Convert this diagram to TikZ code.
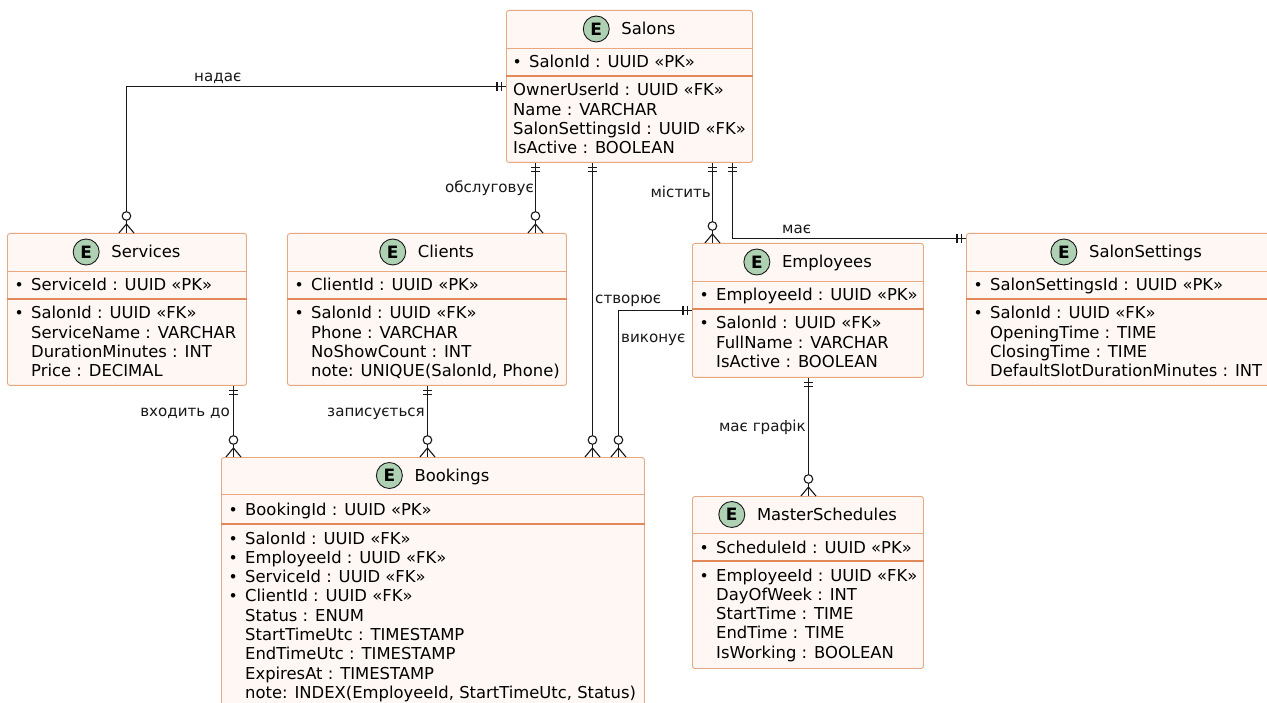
\documentclass[tikz,border=0pt]{standalone}
\usepackage{fontspec}
\setmainfont{DejaVu Sans}
\definecolor{efill}{RGB}{254,247,243}
\definecolor{eborder}{RGB}{231,167,128}
\definecolor{epk}{RGB}{226,135,88}
\definecolor{ecirc}{RGB}{173,209,178}
\definecolor{eline}{RGB}{24,24,24}
\tikzset{
  ebox/.style={draw=eborder, fill=efill, line width=0.9pt, rounded corners=2.5pt, inner sep=0pt},
  tsep/.style={draw=eborder, line width=0.9pt},
  pksepline/.style={draw=epk, line width=1.4pt},
  ttext/.style={font=\fontsize{16.4}{19.3}\selectfont, inner sep=0pt, text=black},
  atext/.style={font=\fontsize{16.4}{19.3}\selectfont, inner sep=0pt, text=black},
  ecircle/.style={circle, draw=eline, fill=ecirc, line width=0.9pt, minimum size=26pt, inner sep=0pt, font=\fontsize{17}{17}\selectfont\bfseries},
  rel/.style={draw=eline, line width=1.1pt},
  rlabel/.style={font=\fontsize{15.1}{17}\selectfont, inner sep=0pt, text=eline},
  onemark/.pic={\draw[rel] (4.7,-4.5) -- (4.7,4.5) (9,-4.5) -- (9,4.5);},
  manymark/.pic={\draw[rel] (0,-7.5) -- (9,0) -- (0,7.5); \draw[rel, fill=white] (17,0) circle[radius=4.3];},
}
\newcommand\B{\llap{{\fontsize{15.5}{15.5}\selectfont\textbullet}\hspace{7.4pt}}}
\newcommand\entity[8]{%
  \node[ebox, minimum width=#4pt, minimum height=#5pt, anchor=north west] (#1) at (#2,#3) {};
  \draw[tsep] ([yshift=-#6pt]#1.north west) -- ([yshift=-#6pt]#1.north east);
  \draw[pksepline] ([yshift=-#7pt]#1.north west) -- ([yshift=-#7pt]#1.north east);
  \node[ttext, anchor=base] (#1-title) at ([xshift=19pt, yshift={-#6pt/2-6pt}]#1.north) {#8};
  \node[ecircle] (#1-e) at ([xshift=-25pt, yshift=6pt]#1-title.base west) {E};
}
\newcommand\erows[4]{%
  \foreach \t [count=\i from 0] in {#4} {\node[atext, anchor=base west] (#1\i) at (#2, {#3+6+19.3*\i}) {\t};}%
}
\begin{document}
\begin{tikzpicture}[x=1pt,y=-1pt]
\useasboundingbox (0,0) rectangle (1267,703);
\clip (0,0) rectangle (1267,703);
\fill[white] (0,0) rectangle (1267,703);

% Salons
\entity{salons}{506}{10}{246}{152}{38}{66}{Salons}
\erows{salons-pk}{529}{62}{\B SalonId : UUID «PK»}
\erows{salons-a}{513}{90}{OwnerUserId : UUID «FK»,Name : VARCHAR,SalonSettingsId : UUID «FK»,IsActive : BOOLEAN}

% Services
\entity{services}{7}{233}{239}{152}{38}{66}{Services}
\erows{services-pk}{31}{285}{\B ServiceId : UUID «PK»}
\erows{services-a}{31}{313}{\B SalonId : UUID «FK»,ServiceName : VARCHAR,DurationMinutes : INT,Price : DECIMAL}

% Clients
\entity{clients}{287}{233}{279}{152}{38}{66}{Clients}
\erows{clients-pk}{311}{285}{\B ClientId : UUID «PK»}
\erows{clients-a}{311}{313}{\B SalonId : UUID «FK»,Phone : VARCHAR,NoShowCount : INT,{note: UNIQUE(SalonId, Phone)}}

% Employees
\entity{employees}{692}{243}{231}{134}{38}{66}{Employees}
\erows{employees-pk}{716}{295}{\B EmployeeId : UUID «PK»}
\erows{employees-a}{716}{323}{\B SalonId : UUID «FK»,FullName : VARCHAR,IsActive : BOOLEAN}

% SalonSettings
\entity{settings}{966}{233}{320}{152}{38}{66}{SalonSettings}
\erows{settings-pk}{990}{285}{\B SalonSettingsId : UUID «PK»}
\erows{settings-a}{990}{313}{\B SalonId : UUID «FK»,OpeningTime : TIME,ClosingTime : TIME,DefaultSlotDurationMinutes : INT}

% Bookings
\entity{bookings}{221}{457}{423}{270}{37}{67}{Bookings}
\erows{bookings-pk}{245}{509}{\B BookingId : UUID «PK»}
\erows{bookings-a}{245}{538}{\B SalonId : UUID «FK»,\B EmployeeId : UUID «FK»,\B ServiceId : UUID «FK»,\B ClientId : UUID «FK»,Status : ENUM,StartTimeUtc : TIMESTAMP,EndTimeUtc : TIMESTAMP,ExpiresAt : TIMESTAMP,{note: INDEX(EmployeeId, StartTimeUtc, Status)}}

% MasterSchedules
\entity{masters}{692}{496}{231}{172}{37}{65}{MasterSchedules}
\erows{masters-pk}{716}{547}{\B ScheduleId : UUID «PK»}
\erows{masters-a}{716}{575}{\B EmployeeId : UUID «FK»,DayOfWeek : INT,StartTime : TIME,EndTime : TIME,IsWorking : BOOLEAN}

% Connectors
% 1 Salons - Services
\coordinate (c1b) at ([xshift=-0.5pt]services.north);
\draw[rel] (salons.west) -| (c1b);
\pic[rotate=180] at (salons.west) {onemark};
\pic[rotate=90] at (c1b) {manymark};
\node[rlabel, anchor=base west] (l1) at (194,82) {надає};

% 2 Salons - Clients
\coordinate (c2a) at ([xshift=-94pt]salons.south);
\coordinate (c2b) at (c2a |- clients.north);
\draw[rel] (c2a) -- (c2b);
\pic[rotate=-90] at (c2a) {onemark};
\pic[rotate=90] at (c2b) {manymark};
\node[rlabel, anchor=base east] (l2) at (534,193) {обслуговує};

% 3 Salons - Bookings
\coordinate (c3a) at ([xshift=-37pt]salons.south);
\coordinate (c3b) at (c3a |- bookings.north);
\draw[rel] (c3a) -- (c3b);
\pic[rotate=-90] at (c3a) {onemark};
\pic[rotate=90] at (c3b) {manymark};
\node[rlabel, anchor=base west] (l3) at (595,304) {створює};

% 4 Salons - Employees
\coordinate (c4a) at ([xshift=83pt]salons.south);
\coordinate (c4b) at (c4a |- employees.north);
\draw[rel] (c4a) -- (c4b);
\pic[rotate=-90] at (c4a) {onemark};
\pic[rotate=90] at (c4b) {manymark};
\node[rlabel, anchor=base east] (l4) at (711,198) {містить};

% 5 Salons - SalonSettings
\coordinate (c5a) at ([xshift=103pt]salons.south);
\coordinate (c5b) at ([yshift=-5.45pt]settings.north west);
\draw[rel] (c5a) |- (c5b);
\pic[rotate=-90] at (c5a) {onemark};
\pic[rotate=180] at (c5b) {onemark};
\node[rlabel, anchor=base west] (l5) at (782,233.5) {має};

% 6 Employees - Bookings
\coordinate (c6a) at (employees.west);
\coordinate (c6b) at ([xshift=185.5pt]bookings.north);
\draw[rel] (c6a) -| (c6b);
\pic[rotate=180] at (c6a) {onemark};
\pic[rotate=90] at (c6b) {manymark};
\node[rlabel, anchor=base west] (l6) at (621,342.5) {виконує};

% 7 Services - Bookings
\coordinate (c7a) at ([xshift=106.5pt]services.south);
\coordinate (c7b) at (c7a |- bookings.north);
\draw[rel] (c7a) -- (c7b);
\pic[rotate=-90] at (c7a) {onemark};
\pic[rotate=90] at (c7b) {manymark};
\node[rlabel, anchor=base east] (l7) at (230,416.5) {входить до};

% 8 Clients - Bookings
\coordinate (c8a) at ([xshift=0.5pt]clients.south);
\coordinate (c8b) at (c8a |- bookings.north);
\draw[rel] (c8a) -- (c8b);
\pic[rotate=-90] at (c8a) {onemark};
\pic[rotate=90] at (c8b) {manymark};
\node[rlabel, anchor=base east] (l8) at (425,416.5) {записується};

% 9 Employees - MasterSchedules
\coordinate (c9a) at ([xshift=0.5pt]employees.south);
\coordinate (c9b) at (c9a |- masters.north);
\draw[rel] (c9a) -- (c9b);
\pic[rotate=-90] at (c9a) {onemark};
\pic[rotate=90] at (c9b) {manymark};
\node[rlabel, anchor=base east] (l9) at (806,431) {має графік};
\end{tikzpicture}
\end{document}
